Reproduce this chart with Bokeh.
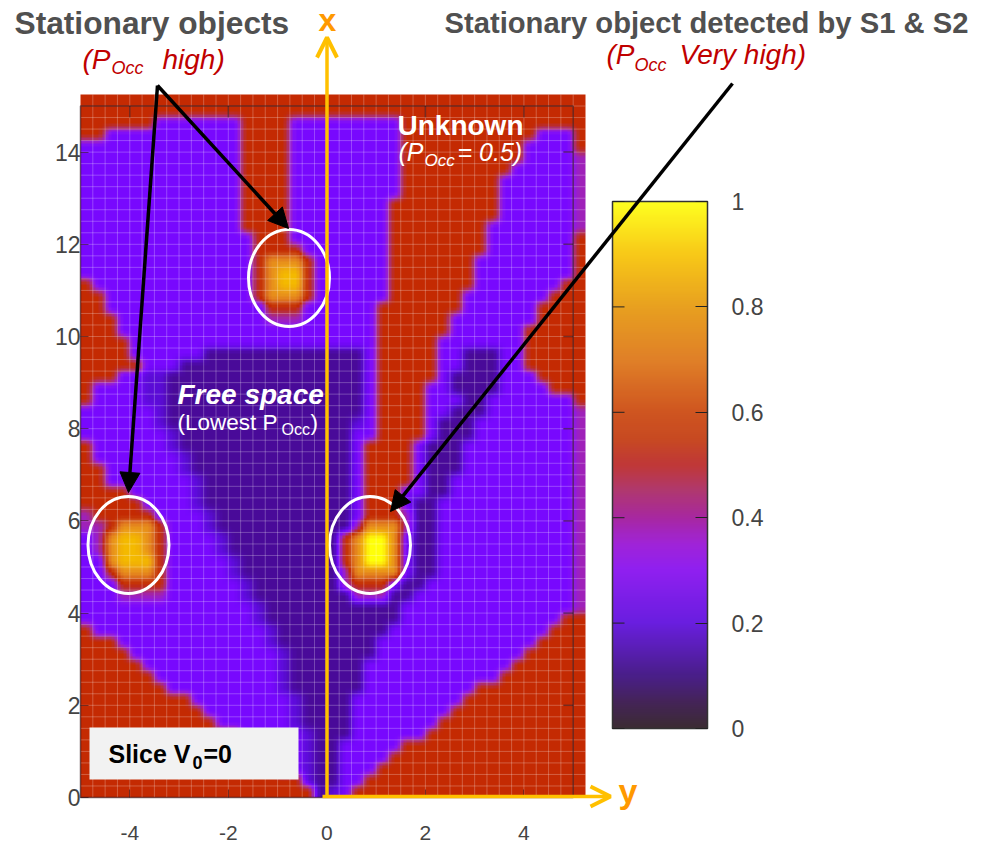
import re
import numpy as np
from bokeh.plotting import figure
from bokeh.models import (Range1d, LinearColorMapper, ColorBar, FixedTicker, Label, Arrow,
                          NormalHead, OpenHead, BoxAnnotation, LinearAxis)
from bokeh.embed import file_html
from bokeh.resources import INLINE

# Occupancy levels used by the cells of the map
LEVELS = {'.': 0.25, 'd': 0.10, 'm': 0.17, 't': 0.37, 'r': 0.52,
          'a': 0.76, 'y': 0.88, 'Y': 1.00}

# One row per 0.25 m from x=15.25 down to 0. Each token: level, then the column where it stops
OCCUPANCY_ROWS = [
    "r41", "r41",
    "r6 .13 r17 .26 r41",
    "r2 .13 r17 .26 r37 .40 r41",
    ".13 r17 .26 r36 .40 r41",
    ".13 r17 .26 r36 .40 t41",
    ".13 r17 .26 r35 .40 t41",
    ".13 r17 .26 r34 .40 t41",
    ".13 r17 .26 r34 .40 t41",
    ".13 r17 .25 r34 .40 t41",
    ".13 r17 .25 r34 .40 t41",
    ".13 r17 .25 r33 .40 t41",
    ".14 r17 .25 r33 .40 r41",
    ".14 r18 .25 r33 .40 r41",
    ".14 r15 a18 r19 .25 r32 .40 r41",
    ".14 r15 a16 y18 r19 .25 r32 .40 r41",
    "r1 .14 r15 a16 y18 r19 .25 r32 .39 r41",
    "r2 .14 r15 a18 r19 .25 r31 .38 r41",
    "r2 .15 r18 .24 r31 .37 r41",
    "r3 .15 t18 .24 r30 .37 r41",
    "r3 .24 r30 .36 r41",
    "r4 .24 r29 .36 r41",
    "r4 .10 d23 .24 r29 .31 d34 .36 r41",
    "r5 .8 d23 .24 r29 .31 d34 .36 r41",
    "r3 .5 m7 d23 .24 r29 .30 d34 .37 r41",
    "r1 .5 m7 d23 .24 r28 .30 d34 .38 r41",
    "r1 .5 m7 d23 .24 r28 .31 d33 .40 r41",
    ".6 m7 d23 .24 r28 .30 d33 .40 t41",
    ".6 m7 d22 m23 .24 r28 .29 d32 .40 t41",
    ".7 m8 d22 .24 r28 .29 d32 .40 t41",
    "r1 .7 m8 d22 .23 r27 .28 d31 .40 t41",
    "r1 .8 m9 d22 .23 r27 .28 d31 .40 t41",
    "r2 .8 m9 d22 .23 r27 .28 d31 .40 t41",
    "r2 .9 m10 d22 .23 r27 .28 d30 .40 t41",
    "r4 .9 m10 d22 .23 r26 .28 d30 .40 t41",
    "r5 .9 m10 d22 .23 r26 .27 d29 .40 t41",
    "t1 r6 .10 m11 d22 .23 r26 t27 d29 .40 t41",
    "t2 r3 a6 r7 .10 m11 d22 t23 a26 t27 d29 .40 t41",
    ".1 t2 a3 y5 a6 r7 .11 m12 d21 r22 a23 Y25 a26 .27 d29 .40 t41",
    ".1 t2 a3 y5 a6 r7 .11 m12 d21 r22 a23 Y25 a26 .27 d29 .40 t41",
    ".2 a3 y6 r7 .12 m13 d21 r22 a23 Y25 a26 .27 d29 .40 t41",
    ".2 r3 a6 r7 .12 m13 d21 t22 a26 .27 d29 .40 t41",
    ".3 r7 .13 m14 d21 t22 r25 .26 d28 .40 t41",
    ".3 t7 .13 m14 d22 t25 d27 .40 t41",
    ".14 m15 d26 .40 t41",
    ".14 m15 d26 .39 r41",
    "r1 .15 m16 d25 .38 r41",
    "r3 .15 m16 d24 .37 r41",
    "r4 .16 m17 d24 .36 r41",
    "r5 .16 m17 d23 .35 r41",
    "r6 .16 m17 d23 .34 r41",
    "r7 .16 m17 d23 .32 r41",
    "r9 .17 m18 d22 .31 r41",
    "r10 .17 m18 d22 .30 r41",
    "r11 .17 m18 d22 .29 r41",
    "r13 .18 m19 d22 .28 r41",
    "r14 .18 m19 d21 .26 r41",
    "r15 .18 m19 d21 .25 r41",
    "r16 .18 m19 d21 .24 r41",
    "r18 m19 d21 .23 r41",
    "r19 d20 m21 .22 r41",
]

X_TICKS = [-4, -2, 0, 2, 4]
X_LABELS = {-4: "-4", -2: "-2", 0: "0", 2: "2", 4: "4"}
Y_TICKS = [0, 2, 4, 6, 8, 10, 12, 14]
BAR_TICKS = [0, 0.2, 0.4, 0.6, 0.8, 1]
BAR_LABELS = {0: "0", 0.2: "0.2", 0.4: "0.4", 0.6: "0.6", 0.8: "0.8", 1: "1"}
COLOR_STOPS = [(0.00, "#3a2a30"), (0.05, "#3f1c68"), (0.10, "#4a0a9c"), (0.17, "#5c0cd8"),
               (0.25, "#7808ff"), (0.31, "#8c18f0"), (0.37, "#a022b8"), (0.44, "#b03060"),
               (0.52, "#c42a02"), (0.60, "#cc4a14"), (0.70, "#e07820"), (0.80, "#ec9c18"),
               (0.88, "#f4b800"), (0.94, "#fcd810"), (1.00, "#ffff08")]
BAR_STOPS = [(0.00, "#3c2c34"), (0.05, "#45245a"), (0.10, "#4a1f8a"), (0.20, "#6a1ee0"),
             (0.30, "#9020f0"), (0.35, "#a024d8"), (0.40, "#a828a0"), (0.45, "#b03870"),
             (0.50, "#c03838"), (0.55, "#c84a22"), (0.60, "#cf5520"), (0.70, "#e08028"),
             (0.80, "#e8a020"), (0.90, "#f8c818"), (1.00, "#ffff20")]


def decode(row):
    cells, start = [], 0
    for ch, end in re.findall(r"([.dmtrayY])(\d+)", row):
        cells += [LEVELS[ch]] * (int(end) - start)
        start = int(end)
    return cells


def make_palette(stops, n=256):
    pos = [s[0] for s in stops]
    rgb = np.array([[int(s[1][i:i + 2], 16) for i in (1, 3, 5)] for s in stops], float)
    t = np.linspace(0, 1, n)
    chan = [np.interp(t, pos, rgb[:, k]) for k in range(3)]
    return ["#%02x%02x%02x" % (int(r), int(g), int(b)) for r, g, b in zip(*chan)]


def soften(a, factor=4, kernel=(1, 2, 3, 2, 1)):
    # display resampling only, so the cell edges look as soft as in the photographed map
    fine = np.repeat(np.repeat(a, factor, axis=0), factor, axis=1)
    k = np.array(kernel, float) / sum(kernel)
    pad = len(k) // 2
    for axis in (0, 1):
        p_w = [(pad, pad) if i == axis else (0, 0) for i in range(2)]
        padded = np.pad(fine, p_w, mode="edge")
        fine = np.apply_along_axis(lambda m: np.convolve(m, k, mode="valid"), axis, padded)
    return fine


grid = np.array([decode(r) for r in OCCUPANCY_ROWS], float)[::-1]

XMIN, XMAX, YMIN, YMAX = -5.0, 5.25, 0.0, 15.25
FL, FR, FT, FB = 80, 585, 94, 797
W, H = 984, 849
SX = (XMAX - XMIN) / (FR - FL)
SY = (YMAX - YMIN) / (FB - FT)


def dx(px):
    return XMIN + (px - FL) * SX


def dy(py):
    return YMIN + (FB - py) * SY


mapper = LinearColorMapper(palette=make_palette(COLOR_STOPS), low=0, high=1)
bar_mapper = LinearColorMapper(palette=make_palette(BAR_STOPS), low=0, high=1)

p = figure(width=W, height=H, output_backend="svg", toolbar_location=None,
           x_range=Range1d(dx(0), dx(W)), y_range=Range1d(dy(H), dy(0)),
           x_axis_type=None, y_axis_type=None,
           min_border_left=0, min_border_right=0, min_border_top=0, min_border_bottom=0)
p.grid.visible = False
p.outline_line_color = None
p.background_fill_color = "white"

p.image(image=[soften(grid)], x=XMIN, y=YMIN, dw=XMAX - XMIN, dh=YMAX - YMIN, color_mapper=mapper)

# seams between map tiles
seam_x = np.arange(-4.75, 5.25, 0.25)
seam_y = np.arange(0.25, 15.25, 0.25)
p.segment(x0=seam_x, x1=seam_x, y0=YMIN, y1=YMAX, line_color="white", line_alpha=0.25, line_width=1)
p.segment(x0=XMIN, x1=XMAX, y0=seam_y, y1=seam_y, line_color="white", line_alpha=0.25, line_width=1)

# frame of the original plot and its inward ticks
p.add_layout(BoxAnnotation(left=-5, right=5, bottom=0, top=15, fill_alpha=0,
                           line_color="#2a0a10", line_alpha=0.6, line_width=1.5))
tick_x = [t for t in X_TICKS if t != 0]
p.segment(x0=tick_x, x1=tick_x, y0=15, y1=14.75, line_color="#2a0a10", line_alpha=0.55, line_width=1.5)
p.segment(x0=5, x1=4.8, y0=Y_TICKS[1:], y1=Y_TICKS[1:], line_color="#2a0a10", line_alpha=0.55, line_width=1.5)

for axis, side, ticks, where in ((LinearAxis(), "below", X_TICKS, 0.0), (LinearAxis(), "left", Y_TICKS, XMIN)):
    axis.ticker = FixedTicker(ticks=ticks)
    axis.fixed_location = where
    axis.axis_line_color = None
    axis.major_tick_in = 8
    axis.major_tick_out = 0
    axis.minor_tick_line_color = None
    axis.major_tick_line_color = "#2a0a10"
    axis.major_tick_line_alpha = 0.55
    axis.major_label_text_font = "Liberation Sans"
    axis.major_label_text_font_size = "21px" if side == "below" else "23px"
    axis.major_label_text_color = "#444444"
    axis.major_label_standoff = 28 if side == "below" else 0
    if side == "below":
        axis.major_label_overrides = X_LABELS
    p.add_layout(axis, side)

bar = ColorBar(color_mapper=bar_mapper, ticker=FixedTicker(ticks=BAR_TICKS),
               major_label_overrides=BAR_LABELS, location=(612, H - 728), width=95, height=527,
               padding=0, background_fill_alpha=0, border_line_color=None, bar_line_color="#333333",
               bar_line_width=1.5, major_tick_line_color="#222222", major_tick_in=12,
               minor_tick_line_color=None, major_label_text_font="Liberation Sans",
               major_label_text_font_size="23px", major_label_text_color="#444444",
               label_standoff=24)
p.add_layout(bar, "center")
bar_y = [dy(728 - t * 527) for t in BAR_TICKS]
p.segment(x0=dx(612), x1=dx(624), y0=bar_y, y1=bar_y, line_color="#222222", line_width=1, level="overlay")

# circles around the detected objects
p.ellipse(x=[dx(288.5), dx(128), dx(369.5)], y=[dy(277.5), dy(544.5), dy(544.5)],
          width=81 * SX, height=97 * SY,
          fill_alpha=0, line_color="white", line_width=3)

# slice box
p.add_layout(BoxAnnotation(left=dx(89), right=dx(298), bottom=dy(779), top=dy(727),
                           fill_color="#F2F2F2", fill_alpha=1, line_color=None, level="annotation"))


def arrow(x0, y0, x1, y1, color, width, head):
    p.add_layout(Arrow(x_start=dx(x0), y_start=dy(y0), x_end=dx(x1), y_end=dy(y1),
                       line_color=color, line_width=width, end=head))


def black_head():
    return NormalHead(size=20, fill_color="black", line_color="black", line_width=1)


def orange_head():
    return OpenHead(size=20, line_color="#FFC000", line_width=4)


arrow(326.5, 797, 326.5, 37, "#FFC000", 3.5, orange_head())
arrow(322, 796, 610, 796, "#FFC000", 3.5, orange_head())
arrow(157, 85, 288, 228, "black", 3.5, black_head())
arrow(157, 85, 128, 492, "black", 3.5, black_head())
arrow(732, 83, 390, 511, "black", 3.5, black_head())


def label(text, px, py, size, color, style="normal"):
    # baseline is lifted: the svg text sits about a third of the font size below the anchor
    p.add_layout(Label(x=dx(px), y=dy(py - 0.33 * size), text=text, text_font="Liberation Sans",
                       text_font_size=f"{size}px", text_color=color, text_font_style=style,
                       text_baseline="alphabetic", text_align="left"))


GREY, RED, WHITE, ORANGE = "#505050", "#C00000", "#FFFFFF", "#FF9900"
label("Stationary objects", 14, 33, 31.7, GREY, "bold")
label("(P", 82, 68, 28, RED, "italic")
label("Occ", 111, 73, 18, RED, "italic")
label("high)", 162, 68, 28, RED, "italic")
label("Stationary object detected by S1 & S2", 444, 32, 29.2, GREY, "bold")
label("(P", 606, 63, 28, RED, "italic")
label("Occ", 634, 70, 18, RED, "italic")
label("Very high)", 679, 63, 28, RED, "italic")
label("Unknown", 397, 134, 28, WHITE, "bold")
label("(P", 398, 160, 25, WHITE, "italic")
label("Occ", 424, 166, 17, WHITE, "italic")
label("= 0.5)", 457, 160, 25, WHITE, "italic")
label("Free space", 177, 403, 28, WHITE, "bold italic")
label("(Lowest P", 177, 429, 22.5, WHITE)
label("Occ", 281, 434, 16, WHITE)
label(")", 310, 429, 22.5, WHITE)
label("Slice V", 108, 762, 25, "#000000", "bold")
label("0", 192, 768, 18, "#000000", "bold")
label("=0", 203, 762, 25, "#000000", "bold")
label("x", 318, 30, 32, ORANGE, "bold")
label("y", 618, 802, 34, ORANGE, "bold")

open("out.html", "w").write(file_html(p, INLINE))
